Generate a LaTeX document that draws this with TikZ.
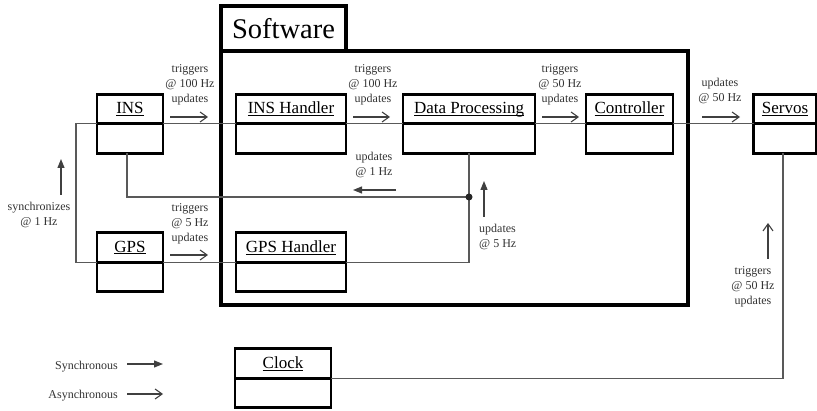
\documentclass[tikz,border=0pt]{standalone}
\usepackage{fontspec}
\setmainfont{Liberation Serif}
\usetikzlibrary{arrows.meta,positioning}

\newcommand{\boxtitle}[1]{\underline{\raisebox{0pt}[\height][0pt]{#1}}}

\tikzset{
  head/.style={draw, line width=2.6pt, inner sep=0pt, outer sep=0pt, minimum height=29.5pt, font=\fontsize{17}{19}\selectfont},
  body/.style={draw, line width=2.6pt, inner sep=0pt, outer sep=0pt, minimum height=29.5pt},
  conn/.style={draw=black!65, line width=1.1pt},
  lbl/.style={text=black!80, align=center, inner sep=0pt, font=\fontsize{12}{15}\selectfont},
  sync/.style={black!75, line width=1.2pt, -{Triangle[length=9pt,width=7pt]}},
  async/.style={black!75, line width=1.1pt, -{Straight Barb[length=7pt,width=10pt]}}
}

\begin{document}
\begin{tikzpicture}[x=1pt, y=-1pt]

\useasboundingbox (0,0) rectangle (817,411);

% software package
\node[draw, line width=3.2pt, outer sep=0pt, minimum width=467pt, minimum height=254pt] (sw) at (454.5,178) {};
\node[draw, line width=3.2pt, outer sep=0pt, anchor=south west, minimum width=125pt, minimum height=45pt,
      font=\fontsize{28.5}{30}\selectfont] (swtab) at (sw.north west) {Software};

% components
\foreach \nm/\txt/\x/\y/\w in {ins/INS/130/109/66, gps/GPS/130/247.5/66,
    inshdl/INS Handler/291/109/110, gpshdl/GPS Handler/291/247.5/110,
    dp/Data Processing/469/109/132, ctrl/Controller/629.5/109/87,
    servos/Servos/785/109/63, clock/Clock/283/363.5/96}{
	\node[head, minimum width=\w] (\nm) at (\x,\y) {\boxtitle{\txt}};
	\node[body, minimum width=\w, below=0pt of \nm] (\nm b) {};
}

% connections
\draw[conn] (ins.south west) -- ++(-21,0) |- (gps.south west);
\draw[conn] (ins.south east) -- (inshdl.south west);
\draw[conn] (inshdl.south east) -- (dp.south west);
\draw[conn] (dp.south east) -- (ctrl.south west);
\draw[conn] (ctrl.south east) -- (servos.south west);
\draw[conn] (gps.south east) -- (gpshdl.south west);

\coordinate (junc) at (dpb.south |- 0,197);
\draw[conn] (dpb.south) -- (junc) -- (junc |- gpshdl.south east) -- (gpshdl.south east);
\draw[conn] ([xshift=-3pt]insb.south) |- (junc);
\fill[black!85] (junc) circle[radius=3.5pt];

\draw[conn] ([xshift=-2pt]servosb.south) |- (clock.south east);

% asynchronous
\node[lbl] (l1) at (190,85) {triggers\\@ 100 Hz\\updates};
\draw[async] (170,117) -- (208,117);
\node[lbl] (l2) at (373,85) {triggers\\@ 100 Hz\\updates};
\draw[async] (353,117) -- (390,117);
\node[lbl] (l3) at (560,85) {triggers\\@ 50 Hz\\updates};
\draw[async] (542,117) -- (579,117);
\node[lbl] (l4) at (720,91) {updates\\@ 50 Hz};
\draw[async] (702,117) -- (740,117);
\node[lbl] (l5) at (190,224) {triggers\\@ 5 Hz\\updates};
\draw[async] (170,255) -- (208,255);
\node[lbl] (l6) at (753,287) {triggers\\@ 50 Hz\\updates};
\draw[async] (768,259) -- (768,223);

% synchronous
\node[lbl] (l7) at (374,165) {updates\\@ 1 Hz};
\draw[sync] (396,190) -- (353,190);
\node[lbl, anchor=west, align=left] (l8) at (479,237) {updates\\@ 5 Hz};
\draw[sync] (484,217) -- (484,181);
\node[lbl] (l9) at (39,215) {synchronizes\\@ 1 Hz};
\draw[sync] (61,195) -- (61,159);

% legend
\node[lbl, anchor=east] (synclbl) at (118,367) {Synchronous};
\draw[sync] (127,364) -- (163,364);
\node[lbl, anchor=east] (asynclbl) at (118,396) {Asynchronous};
\draw[async] (127,394) -- (163,394);

\end{tikzpicture}
\end{document}
